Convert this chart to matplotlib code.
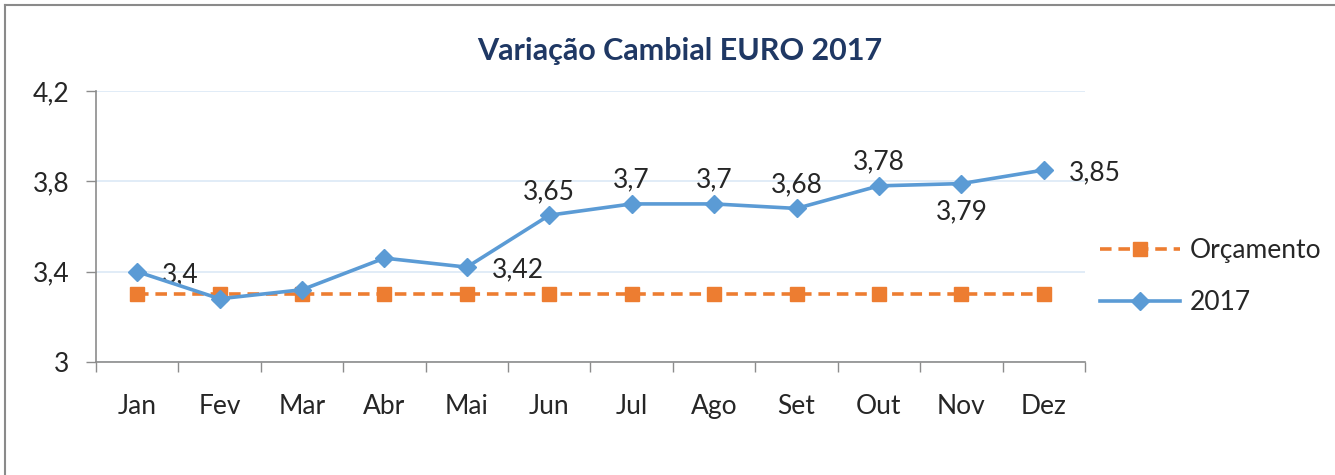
import numpy as np
import matplotlib
matplotlib.use("Agg")
import matplotlib.pyplot as plt
from matplotlib.lines import Line2D

plt.rcParams['font.family'] = ['Lato', 'DejaVu Sans']

months = ["Jan", "Fev", "Mar", "Abr", "Mai", "Jun", "Jul", "Ago", "Set", "Out", "Nov", "Dez"]
orcamento = [3.30] * 12
euro_2017 = [3.40, 3.28, 3.32, 3.46, 3.42, 3.65, 3.70, 3.70, 3.68, 3.78, 3.79, 3.85]
# which points carry a data label and where it goes
label_text = {0: "3,4", 4: "3,42", 5: "3,65", 6: "3,7", 7: "3,7", 8: "3,68",
              9: "3,78", 10: "3,79", 11: "3,85"}
label_pos = {0: "right", 4: "right", 5: "above", 6: "above", 7: "above", 8: "above",
             9: "above", 10: "below", 11: "right"}
yticks = [3.0, 3.4, 3.8, 4.2]
ytick_labels = ["3", "3,4", "3,8", "4,2"]

BLUE = "#5B9BD5"
ORANGE = "#ED7D31"
GRID = "#DCE9F6"
AXIS = "#8C8C8C"
TEXT = "#262626"
FS = 19

fig = plt.figure(figsize=(13.35, 4.75), dpi=100)
ax = fig.add_axes([0.0719, 0.2379, 0.7408, 0.5705])

x = np.arange(len(months))
ax.plot(x, orcamento, color=ORANGE, lw=2.6, ls=(0, (3.2, 1.9)), marker="s", ms=10,
        mec=ORANGE, mfc=ORANGE, zorder=3, label="Orçamento")
ax.plot(x, euro_2017, color=BLUE, lw=2.6, marker="D", ms=9,
        mec=BLUE, mfc=BLUE, zorder=4, label="2017")

for i, txt in label_text.items():
    pos = label_pos[i]
    if pos == "right":
        off, ha, va = (18, -2), "left", "center"
    elif pos == "above":
        off, ha, va = (0, 8), "center", "bottom"
    else:
        off, ha, va = (0, -11), "center", "top"
    ax.annotate(txt, (x[i], euro_2017[i]), xytext=off, textcoords="offset points",
                ha=ha, va=va, fontsize=FS, color=TEXT)

ax.set_xlim(-0.5, len(months) - 0.5)
ax.set_ylim(3.0, 4.2)
ax.set_yticks(yticks)
ax.set_yticklabels(ytick_labels)
ax.set_xticks(x)
ax.set_xticklabels(months)
ax.set_xticks(np.arange(len(months) + 1) - 0.5, minor=True)
ax.tick_params(axis="x", which="major", length=0, pad=23, labelsize=FS, labelcolor=TEXT)
ax.tick_params(axis="x", which="minor", length=7, width=1, color=AXIS)
ax.tick_params(axis="y", length=7, width=1, color=AXIS, pad=12, labelsize=FS, labelcolor=TEXT)

ax.grid(axis="y", color=GRID, lw=1.2)
ax.set_axisbelow(True)
for s in ["top", "right"]:
    ax.spines[s].set_visible(False)
for s in ["left", "bottom"]:
    ax.spines[s].set_color(AXIS)
    ax.spines[s].set_linewidth(1.2)

fig.text(0.509, 0.893, "Variação Cambial EURO 2017", ha="center", va="center",
         fontsize=22, fontweight="bold", color="#1F3864")

leg = ax.legend(loc="center left", bbox_to_anchor=(1.005, 0.315), frameon=False,
                fontsize=FS, handlelength=3.0, labelspacing=1.05, handletextpad=0.4,
                borderaxespad=0, labelcolor=TEXT)

# outer frame (top and left edge only visible in the source)
fig.add_artist(Line2D([0.004, 0.004], [0.0, 0.99], color="#8A8A8A", lw=1.5))
fig.add_artist(Line2D([0.004, 1.0], [0.99, 0.99], color="#8A8A8A", lw=1.5))

fig.savefig("out.png", dpi=100)
